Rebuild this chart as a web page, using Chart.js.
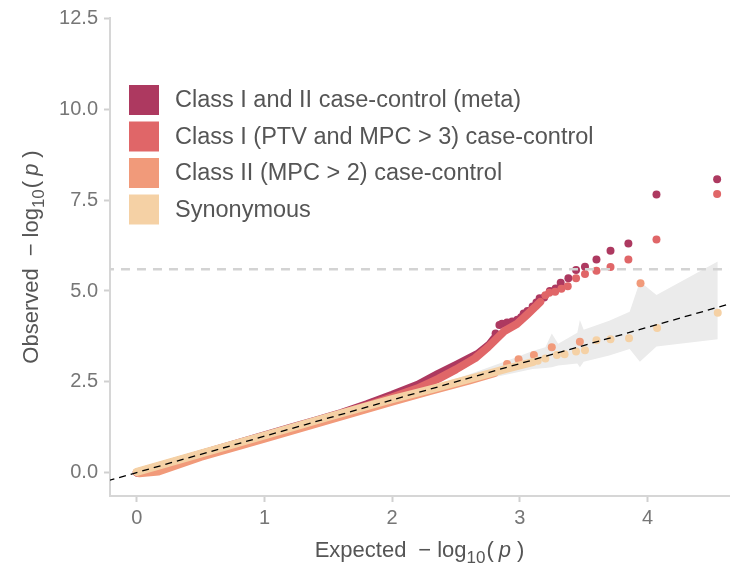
<!DOCTYPE html>
<html>
<head>
<meta charset="utf-8">
<script src="https://cdn.jsdelivr.net/npm/chart.js@4/dist/chart.umd.min.js"></script>
<style>
  html, body { margin: 0; padding: 0; background: #fff; }
  #wrap { width: 733px; height: 569px; position: relative; }
</style>
</head>
<body>
<div id="wrap"><canvas id="qq"></canvas></div>
<script>
// series names and colours (legend order)
const seriesNames = [
  "Class I and II case-control (meta)",
  "Class I (PTV and MPC > 3) case-control",
  "Class II (MPC > 2) case-control",
  "Synonymous",
];
const seriesColors = ["#ad3960", "#e06668", "#f19a7a", "#f5d1a5"];

// dense part of each QQ curve, [expected, observed] -log10(p)
const metaDense = [[0, 0], [0.3, 0.3], [0.6, 0.61], [0.9, 0.92], [1.2, 1.23], [1.4, 1.43], [1.6, 1.64], [1.8, 1.88],
  [2.0, 2.14], [2.2, 2.42], [2.36, 2.72], [2.51, 2.98], [2.67, 3.27], [2.76, 3.52], [2.8, 3.7]];
const classIDense = [[0, 0], [0.5, 0.5], [1.0, 1.0], [1.4, 1.41], [1.8, 1.84], [2.0, 2.07], [2.2, 2.32], [2.36, 2.58],
  [2.5, 2.84], [2.65, 3.15], [2.75, 3.45], [2.88, 3.9], [2.98, 4.1], [3.06, 4.36], [3.12, 4.56], [3.16, 4.7]];
const classIIDense = [[0.02, -0.02], [0.17, 0.03], [0.5, 0.43], [1.0, 0.93], [1.5, 1.44], [2.0, 1.95], [2.3, 2.25],
  [2.6, 2.53], [2.8, 2.74]];
const synDense = [[0, 0.02], [0.5, 0.52], [1.0, 1.02], [1.5, 1.53], [2.0, 2.02], [2.3, 2.29], [2.6, 2.57],
  [2.9, 2.86], [3.1, 3.04]];

// sparse upper tail, drawn as single points
const metaTail = [[2.81, 3.83], [2.84, 4.06], [2.86, 4.1], [2.9, 4.13], [2.94, 4.16], [2.98, 4.21], [3.01, 4.28],
  [3.03, 4.38], [3.06, 4.45], [3.1, 4.57], [3.13, 4.68], [3.155, 4.8], [3.19, 4.82], [3.235, 5.0], [3.28, 5.07],
  [3.32, 5.23], [3.38, 5.35], [3.44, 5.58], [3.51, 5.67], [3.6, 5.87], [3.71, 6.11], [3.85, 6.31], [4.07, 7.66],
  [4.545, 8.08]];
const classITail = [[3.2, 4.88], [3.23, 4.95], [3.276, 4.98], [3.325, 5.06], [3.375, 5.13], [3.44, 5.35],
  [3.51, 5.47], [3.6, 5.56], [3.71, 5.66], [3.85, 5.87], [4.07, 6.42], [4.545, 7.67]];
const classIITail = [[2.9, 2.99], [2.99, 3.12], [3.11, 3.24], [3.25, 3.45], [3.47, 3.6], [3.945, 5.21]];
const synTail = [[3.14, 3.08], [3.2, 3.14], [3.29, 3.24], [3.35, 3.26], [3.44, 3.33], [3.51, 3.37], [3.6, 3.64],
  [3.71, 3.67], [3.855, 3.7], [4.075, 3.98], [4.55, 4.4]];

// grey confidence band around the null line
const bandX = [2.0, 2.3, 2.6, 2.9, 3.1, 3.2, 3.25, 3.3, 3.45, 3.47, 3.5, 3.7, 3.86, 3.94, 4.07, 4.55];
const bandLow = [1.96, 2.24, 2.48, 2.7, 2.85, 2.88, 2.9, 2.95, 3.0, 2.9, 3.05, 3.22, 3.4, 3.05, 3.47, 3.67];
const bandHigh = [2.04, 2.37, 2.7, 3.08, 3.35, 3.45, 3.83, 3.55, 3.85, 4.2, 3.93, 4.18, 4.43, 5.26, 4.89, 5.81];

const sigLine = 5.6;
const xTicks = [0, 1, 2, 3, 4];
const yTicks = [0, 2.5, 5, 7.5, 10, 12.5];

const toPts = (arr) => arr.map(([x, y]) => ({ x, y }));
const denseSets = [metaDense, classIDense, classIIDense, synDense];
const tailSets = [metaTail, classITail, classIITail, synTail];

const datasets = [];
// reference lines on top
datasets.push({
  type: "line", data: [{ x: -0.5, y: sigLine }, { x: 5, y: sigLine }],
  borderColor: "#d3d3d3", borderWidth: 2.5, borderDash: [9, 7], pointRadius: 0, order: 0,
});
datasets.push({
  type: "line", data: [{ x: -0.5, y: -0.5 }, { x: 5, y: 5 }],
  borderColor: "#000", borderWidth: 1.3, borderDash: [7, 5], pointRadius: 0, order: 0,
});
// series: later series drawn on top
seriesNames.forEach((name, i) => {
  const ord = 10 - i * 2;
  datasets.push({
    type: "scatter", label: name, data: toPts(tailSets[i]),
    backgroundColor: seriesColors[i], borderWidth: 0, pointRadius: 4, order: ord,
  });
  datasets.push({
    type: "line", data: toPts(denseSets[i]), borderColor: seriesColors[i], borderWidth: 8,
    borderCapStyle: "round", borderJoinStyle: "round", pointRadius: 0, tension: 0, order: ord + 1,
  });
});
// band (drawn first)
datasets.push({
  type: "line", data: bandX.map((x, i) => ({ x, y: bandLow[i] })),
  borderWidth: 0, pointRadius: 0, fill: false, order: 30,
});
datasets.push({
  type: "line", data: bandX.map((x, i) => ({ x, y: bandHigh[i] })),
  borderWidth: 0, pointRadius: 0, fill: "-1", backgroundColor: "#ebebeb", order: 30,
});

const FONT = "'Liberation Sans', Arial, sans-serif";

const legendInPanel = {
  id: "legendInPanel",
  afterDraw(chart) {
    const ctx = chart.ctx;
    ctx.save();
    seriesNames.forEach((name, i) => {
      const top = 85 + i * 36.5;
      ctx.fillStyle = seriesColors[i];
      ctx.fillRect(129, top, 30, 30);
      ctx.fillStyle = "#555";
      ctx.font = "23.5px " + FONT;
      ctx.textBaseline = "middle";
      ctx.textAlign = "left";
      ctx.fillText(name, 175, top + 16);
    });
    ctx.restore();
  },
};

function logTitle(ctx, pre) {
  // pieces of "<pre>  -log10(p)" with subscript and italic p
  const big = "22px " + FONT, small = "17px " + FONT, ital = "italic 22px " + FONT;
  const parts = [
    { t: pre, f: big, dy: 0, gap: 12 },
    { t: "\u2212", f: big, dy: 0, gap: 6 },
    { t: "log", f: big, dy: 0, gap: 0 },
    { t: "10", f: small, dy: 6, gap: 1 },
    { t: "(", f: big, dy: 0, gap: 5 },
    { t: "p", f: ital, dy: 0, gap: 6 },
    { t: ")", f: big, dy: 0, gap: 0 },
  ];
  let w = 0;
  parts.forEach((p) => { ctx.font = p.f; p.w = ctx.measureText(p.t).width; w += p.w + p.gap; });
  return {
    width: w,
    draw(x0, y0) {
      let x = x0;
      parts.forEach((p) => { ctx.font = p.f; ctx.fillText(p.t, x, y0 + p.dy); x += p.w + p.gap; });
    },
  };
}

const axisTitles = {
  id: "axisTitles",
  afterDraw(chart) {
    const ctx = chart.ctx, a = chart.chartArea;
    ctx.save();
    ctx.fillStyle = "#555";
    ctx.textBaseline = "alphabetic";
    ctx.textAlign = "left";
    const xt = logTitle(ctx, "Expected");
    xt.draw((a.left + a.right) / 2 - xt.width / 2, 557);
    ctx.translate(38, (a.top + a.bottom) / 2);
    ctx.rotate(-Math.PI / 2);
    const yt = logTitle(ctx, "Observed");
    yt.draw(-yt.width / 2, 0);
    ctx.restore();
  },
};

new Chart(document.getElementById("qq"), {
  type: "scatter",
  data: { datasets },
  options: {
    responsive: true,
    maintainAspectRatio: false,
    animation: false,
    layout: { padding: { top: 18, right: 0, left: 0, bottom: 0 } },
    plugins: { legend: { display: false }, tooltip: { enabled: false } },
    scales: {
      x: {
        type: "linear", min: -0.21, max: 4.638,
        afterBuildTicks: (s) => { s.ticks = xTicks.map((v) => ({ value: v })); },
        afterFit: (s) => { s.height = 73; },
        ticks: { color: "#767676", font: { size: 20, family: FONT }, padding: 4, callback: (v) => String(v) },
        grid: { drawOnChartArea: false, drawTicks: true, tickLength: 6, tickColor: "#d0d0d0", tickWidth: 2 },
        border: { display: true, color: "#d6d6d6", width: 2 },
      },
      y: {
        type: "linear", min: -0.647, max: 12.52,
        afterBuildTicks: (s) => { s.ticks = yTicks.map((v) => ({ value: v })); },
        afterFit: (s) => { s.width = 110; },
        ticks: { color: "#767676", font: { size: 20, family: FONT }, padding: 6, callback: (v) => v.toFixed(1) },
        grid: { drawOnChartArea: false, drawTicks: true, tickLength: 6, tickColor: "#d0d0d0", tickWidth: 2 },
        border: { display: true, color: "#d6d6d6", width: 2 },
      },
    },
  },
  plugins: [legendInPanel, axisTitles],
});
</script>
</body>
</html>
